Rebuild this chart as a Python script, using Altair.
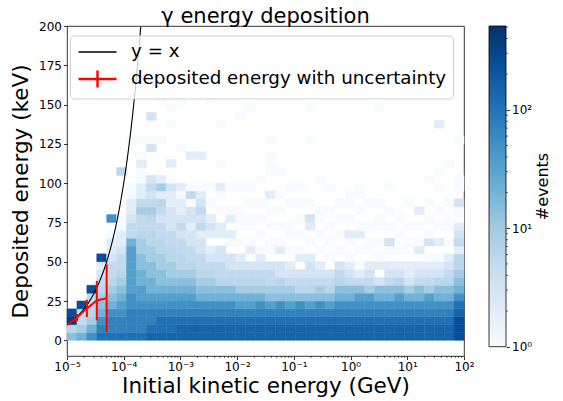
import altair as alt
import numpy as np
import pandas as pd

# colour map (matplotlib "Blues") and upper end of the event-count scale
BLUES = ["#f7fbff", "#deebf7", "#c6dbef", "#9ecae1", "#6baed6",
         "#4292c6", "#2171b5", "#08519c", "#08306b"]
VMAX = 510.0

# histogram binning: 40 log bins in initial energy (GeV), 5 keV bins in deposit
E_EDGES = np.logspace(-5, 2, 41)
DEP_BIN = 5.0

# events per cell, one letter per cell
LEVEL_COUNTS = {".": 0, "a": 1, "b": 1, "c": 2, "d": 3, "e": 5, "f": 6,
                "g": 9, "h": 14, "i": 21, "j": 34, "k": 51, "l": 74,
                "m": 110, "n": 146, "o": 255, "p": 400}

# one string per energy bin (left to right), cells listed from 0 keV upward
COLUMNS = [
    "hfpo",
    "igeeo",
    "kigfeeo",
    "mlkihgfedco",
    "mllkihgfeedccb.k",
    "mllkjihgfeedccbb.....f",
    "mlllkkjjjjjjieedccba.....a",
    "mlllkjjiihhggfeegeccbbcb.a",
    "nmllkjiihhggffefgeded...da..d",
    "nmmlkjihhggffeedefcgc....a....a",
    "nmmlkjihggffeedddccdb.c....a.a",
    "nnmlkjihgffeededccbc....a.....a",
    "nnmlkjihgfeeddcddbeb...c.............a",
    "nnmlkihgfeeddcededcb...c",
    "nnmlkihgfedc.cdc.b.a..........a",
    "nnmlkihfeedd.cc.b.ac..a....a",
    "nnmlkihfedd.bc.cb..a",
    "nnmljigfedc.b.bba..a........a",
    "nnmljigfed.cb.ba.a.b.........a",
    "nnmlkigfedcb.b.b.a..a",
    "nnmljhgeed.bb.a.a.c..aaa.a",
    "nnmlkhgfdd.cb.b.a.a..a",
    "nnmljhgedc.b.ba..b.a",
    "nnmlkhfed.cb.b.b.a.a",
    "nnmljhfeddc.b.cd.a.......a...a",
    "nnmlkhgedc.b.a.ab...a",
    "nnmljhfed.b.a.a.a..a",
    "nnmlkihfed.b.a.a.b",
    "nnmlkihedcb.bc.a.aa",
    "nnmlkjhecb.b.ca.a.aa.................a",
    "nnmlkjgedc.bb.a..a",
    "nnmlkihd.cb.a.ab.a...........a",
    "nnmlkihedc.bd.b.a..a",
    "nnmlkjhfdc.b.b.a",
    "nnmlkigdcc.bb.a..a",
    "nnmlkihedc.cb.a.c",
    "nnmlkjgedcb.db.a.a..a",
    "nnmlkihfdcb.c.a.b..a.a.....c",
    "nnmlkihfedc.b.ba.b....a",
    "ooonmkihgffcedcbad.aa....a",
]

# mean deposited energy and its uncertainty at the lowest initial energies
ERR_E = [1.0e-5, 1.5e-5, 2.24e-5, 3.35e-5, 5.0e-5]
ERR_DEP = [9.8, 14.5, 20.3, 25.3, 26.8]
ERR_UNC = [0.0, 2.2, 5.5, 12.5, 21.5]

SERIES = ["y = x", "deposited energy with uncertainty"]
TITLE = "γ energy deposition"

X_MAJOR = [1e-5, 1e-4, 1e-3, 1e-2, 1e-1, 1e0, 1e1, 1e2]
X_LABELS = ["10⁻⁵", "10⁻⁴", "10⁻³", "10⁻²", "10⁻¹", "10⁰", "10¹", "10²"]
X_MINOR = [m * 10.0 ** p for p in range(-5, 2) for m in range(2, 10)]
CB_MAJOR = [1, 10, 100]
CB_LABELS = ["10⁰", "10¹", "10²"]
CB_MINOR = [m * 10.0 ** p for p in range(0, 3) for m in range(2, 10) if m * 10.0 ** p < VMAX]

FONT = "DejaVu Sans"
W, H = 397, 330
CB_X0, CB_W, CB_LEN = 422, 17, 320.7

cells = []
for k, col in enumerate(COLUMNS):
    for r, ch in enumerate(col):
        n = LEVEL_COUNTS[ch]
        if n > 0:
            cells.append({"e0": E_EDGES[k], "e1": E_EDGES[k + 1],
                          "d0": r * DEP_BIN, "d1": (r + 1) * DEP_BIN, "events": n})
hist = pd.DataFrame(cells)

err = pd.DataFrame({"e": ERR_E, "dep": ERR_DEP, "unc": ERR_UNC})

x_scale = alt.Scale(type="log", domain=[1e-5, 1e2], nice=False)
y_scale = alt.Scale(domain=[-10, 200], nice=False, zero=False)
count_scale = alt.Scale(type="log", domain=[VMAX ** (i / 8) for i in range(9)],
                        range=BLUES, interpolate="rgb")

x_label_expr = "[" + ",".join(f"'{s}'" for s in X_LABELS) + "][round(log(datum.value)/LN10)+5]"
cb_label_expr = "[" + ",".join(f"'{s}'" for s in CB_LABELS) + "][round(log(datum.value)/LN10)]"

x_axis = alt.Axis(values=X_MAJOR, labelExpr=x_label_expr, title="Initial kinetic energy (GeV)",
                  tickSize=3.5, labelPadding=2, titlePadding=3, labelFontSize=12,
                  titleFontSize=21.5, grid=False, labelFlush=False)
y_axis = alt.Axis(values=list(range(0, 201, 25)), title="Deposited energy (keV)",
                  tickSize=3.5, labelPadding=2, titlePadding=6, labelFontSize=12,
                  titleFontSize=21.5, grid=False)

heat = alt.Chart(hist).mark_rect(strokeWidth=0.5).encode(
    x=alt.X("e0:Q", scale=x_scale, axis=x_axis),
    x2="e1:Q",
    y=alt.Y("d0:Q", scale=y_scale, axis=y_axis),
    y2="d1:Q",
    fill=alt.Fill("events:Q", scale=count_scale, legend=None),
    stroke=alt.Stroke("events:Q", scale=count_scale, legend=None),
)

minor_x = alt.Chart(pd.DataFrame({"e": X_MINOR})).mark_rule(
    color="black", strokeWidth=0.6
).encode(x="e:Q", y=alt.value(H), y2=alt.value(H + 2))

# the identity line: deposited energy (keV) equal to the initial energy
identity = alt.Chart(alt.sequence(0, 131, as_="i")).transform_calculate(
    e="1e-5 * pow(10, datum.i / 100)", dep="datum.e * 1e6"
).mark_line(color="black", strokeWidth=1.1, clip=True).encode(x="e:Q", y="dep:Q")

err_line = alt.Chart(err).mark_line(color="red", strokeWidth=2, clip=True).encode(
    x="e:Q", y="dep:Q")
err_bars = alt.Chart(err).transform_calculate(
    lo="datum.dep - datum.unc", hi="datum.dep + datum.unc"
).mark_rule(color="red", strokeWidth=2).encode(x="e:Q", y="lo:Q", y2="hi:Q")

legend_marks = alt.Chart(pd.DataFrame({"series": SERIES})).mark_point(
    size=0, filled=False, opacity=1
).encode(
    x=alt.value(0), y=alt.value(0),
    color=alt.Color("series:N", scale=alt.Scale(domain=SERIES, range=["black", "red"]),
                    legend=alt.Legend(title=None, orient="none", legendX=3, legendY=9.5,
                                      labelFontSize=18.3, labelFont=FONT, labelColor="black",
                                      labelLimit=0, symbolSize=361, symbolOffset=10.5,
                                      padding=6, rowPadding=4.5, labelOffset=22.5,
                                      symbolOpacity=1,
                                      fillColor="rgba(255,255,255,0.8)",
                                      strokeColor="#d0d0d0", cornerRadius=4)),
    shape=alt.Shape("series:N", scale=alt.Scale(
        domain=SERIES, range=["M-2,0L2,0", "M-2,0L2,0M0,-0.9L0,0.9"])),
    strokeWidth=alt.StrokeWidth("series:N", scale=alt.Scale(domain=SERIES, range=[1.3, 2.4])),
)

title = alt.Chart(pd.DataFrame({"t": [TITLE]})).mark_text(
    font=FONT, fontSize=21, color="black", align="center", baseline="alphabetic"
).encode(text="t:N", x=alt.value(W / 2), y=alt.value(-3))

gradient = alt.LinearGradient(
    gradient="linear",
    stops=[alt.GradientStop(offset=i / 8, color=c) for i, c in enumerate(BLUES)],
    x1=0, x2=0, y1=1, y2=0,
)
cb_scale = alt.Scale(type="log", domain=[1, VMAX], range=[CB_LEN, 0], nice=False)
cb_axis = alt.Axis(orient="right", offset=CB_X0 + CB_W - W, values=CB_MAJOR,
                   labelExpr=cb_label_expr, tickSize=3.5, labelPadding=2,
                   labelFontSize=12, domain=False, grid=False, title="#events",
                   titleFontSize=16, titleAngle=270, titleX=36, titleY=160,
                   titleAlign="center", titleBaseline="middle")
colorbar = alt.Chart(pd.DataFrame({"lo": [1.0], "hi": [VMAX]})).mark_rect(
    fill=gradient, stroke="black", strokeWidth=0.8
).encode(
    x=alt.value(CB_X0), x2=alt.value(CB_X0 + CB_W),
    y=alt.Y("lo:Q", scale=cb_scale, axis=cb_axis), y2="hi:Q",
)
cb_minor = alt.Chart(pd.DataFrame({"v": CB_MINOR})).mark_rule(
    color="black", strokeWidth=0.6
).encode(
    x=alt.value(CB_X0 + CB_W), x2=alt.value(CB_X0 + CB_W + 2),
    y=alt.Y("v:Q", scale=cb_scale, axis=None),
)

main = alt.layer(heat, minor_x, identity, err_line, err_bars, legend_marks, title)

chart = alt.layer(main, colorbar, cb_minor).resolve_scale(y="independent").properties(
    width=W, height=H,
    padding={"left": 67, "top": 26, "right": 99, "bottom": 45},
    autosize=alt.AutoSizeParams(type="none"),
).configure_axis(
    labelFont=FONT, titleFont=FONT, labelColor="black", titleColor="black",
    tickColor="black", tickWidth=0.8, domain=False, titleFontWeight="normal",
).configure_view(stroke="black", strokeWidth=0.8)

chart.save("out.html", embed_options={"renderer": "svg", "actions": False})
